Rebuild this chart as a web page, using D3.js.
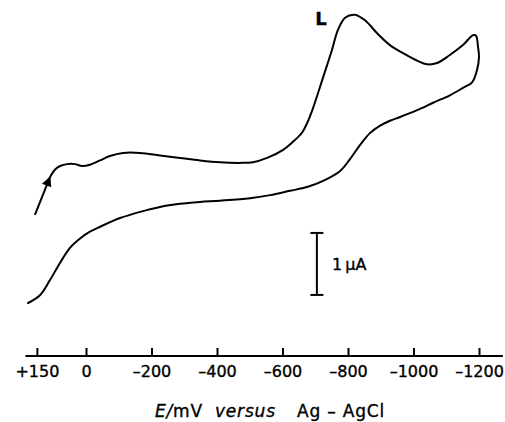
<!DOCTYPE html>
<html>
<head>
<meta charset="utf-8">
<script src="https://cdn.jsdelivr.net/npm/d3@7"></script>
<style>
  body { margin: 0; background: #fff; }
  svg { display: block; font-family: "DejaVu Sans", sans-serif; }
  text { stroke: #000; stroke-width: 0.35px; }
</style>
</head>
<body>
<svg width="505" height="422"></svg>
<script>
// potential in mV (vs Ag-AgCl), current in microamps (arbitrary zero)
const forwardE = [110, 95, 79, 58, 34, 12, -12, -43, -73, -113, -165, -226, -287, -348, -409, -470, -510,
  -553, -602, -632, -660, -675, -693, -724, -751, -769, -791, -821, -852, -889, -928, -968, -1011,
  -1041, -1072, -1111, -1151, -1182, -1191];
const forwardI = [2.03, 2.15, 2.21, 2.24, 2.24, 2.21, 2.23, 2.30, 2.37, 2.42, 2.42, 2.38, 2.34, 2.30, 2.27, 2.26, 2.27,
  2.34, 2.47, 2.60, 2.75, 2.90, 3.14, 3.64, 4.08, 4.40, 4.60, 4.65, 4.56, 4.35, 4.16, 4.03, 3.91,
  3.85, 3.87, 4.00, 4.16, 4.32, 4.31];
const reverseE = [-1197, -1200, -1194, -1179, -1151, -1111, -1060, -1011, -959, -928, -898, -867, -837,
  -806, -776, -724, -675, -623, -562, -501, -409, -348, -287, -226, -165, -104, -43, -12, 18, 49, 79, 110, 140, 177];
const reverseI = [4.13, 3.97, 3.76, 3.56, 3.47, 3.35, 3.23, 3.11, 3.00, 2.94, 2.86, 2.74, 2.55,
  2.32, 2.13, 1.97, 1.87, 1.81, 1.74, 1.69, 1.65, 1.63, 1.60, 1.55, 1.47, 1.37, 1.23, 1.15, 1.04, 0.89, 0.65, 0.37, 0.13, 0.00];

const tickValues = [150, 0, -200, -400, -600, -800, -1000, -1200];
const arrowE = [156, 110];
const arrowI = [1.42, 2.03];
const scaleBarE = -705;
const scaleBarI = [0.13, 1.13];
const peakLabel = { text: "L", E: -700, I: 4.48 };

const svg = d3.select("svg");

const x = d3.scaleLinear().domain([0, -1200]).range([86, 479]);
const y = d3.scaleLinear().domain([0, 5]).range([303, -7]);

const points = forwardE.map((e, i) => [e, forwardI[i]])
  .concat(reverseE.map((e, i) => [e, reverseI[i]]));

const line = d3.line()
  .x(d => x(d[0]))
  .y(d => y(d[1]))
  .curve(d3.curveCatmullRom.alpha(0.5));

svg.append("path")
  .datum(points)
  .attr("fill", "none")
  .attr("stroke", "#000")
  .attr("stroke-width", 2)
  .attr("stroke-linejoin", "round")
  .attr("stroke-linecap", "round")
  .attr("d", line);

// scan direction arrow
svg.append("defs").append("marker")
  .attr("id", "head")
  .attr("viewBox", "0 0 10 10")
  .attr("refX", 9).attr("refY", 5)
  .attr("markerWidth", 6).attr("markerHeight", 5)
  .attr("markerUnits", "strokeWidth")
  .attr("orient", "auto")
  .append("path")
  .attr("d", "M0,0L10,5L0,10Z")
  .attr("fill", "#000");

svg.append("line")
  .attr("x1", x(arrowE[0])).attr("y1", y(arrowI[0]))
  .attr("x2", x(arrowE[1])).attr("y2", y(arrowI[1]))
  .attr("stroke", "#000")
  .attr("stroke-width", 2)
  .attr("marker-end", "url(#head)");

// peak label
svg.append("text")
  .attr("x", x(peakLabel.E))
  .attr("y", y(peakLabel.I))
  .attr("font-size", 18)
  .attr("font-weight", "bold")
  .text(peakLabel.text);

// 1 uA scale bar
const bar = svg.append("g").attr("stroke", "#000").attr("stroke-width", 2);
bar.append("line")
  .attr("x1", x(scaleBarE)).attr("x2", x(scaleBarE))
  .attr("y1", y(scaleBarI[0])).attr("y2", y(scaleBarI[1]));
scaleBarI.forEach(v => {
  bar.append("line")
    .attr("x1", x(scaleBarE) - 6.5).attr("x2", x(scaleBarE) + 6.5)
    .attr("y1", y(v)).attr("y2", y(v));
});
svg.append("text")
  .attr("x", x(scaleBarE) + 15)
  .attr("y", y((scaleBarI[0] + scaleBarI[1]) / 2) + 6)
  .attr("font-size", 16)
  .text("1\u2009\u00b5A");

// potential axis
const fmt = d => d > 0 ? "+" + d : d < 0 ? "\u2013" + (-d) : "0";
const axis = svg.append("g")
  .attr("transform", "translate(0,356)")
  .call(d3.axisBottom(x)
    .tickValues(tickValues)
    .tickFormat(fmt)
    .tickSizeInner(-8)
    .tickSizeOuter(0)
    .tickPadding(10));
axis.select(".domain")
  .attr("d", `M${x(185)},0H${x(-1273)}`)
  .attr("stroke-width", 2);
axis.selectAll(".tick line").attr("stroke-width", 2);
axis.selectAll(".tick text")
  .attr("font-size", 16)
  .attr("font-family", "DejaVu Sans, sans-serif")
  .attr("fill", "#000");

const title = svg.append("text")
  .attr("y", 417)
  .attr("font-size", 17)
  .attr("letter-spacing", 0.8);
title.append("tspan").attr("x", 155).attr("font-style", "italic").text("E/");
title.append("tspan").text("mV");
title.append("tspan").attr("x", 215).attr("font-style", "italic").text("versus");
title.append("tspan").attr("x", 297).text("Ag \u2013 AgCl");
</script>
</body>
</html>
